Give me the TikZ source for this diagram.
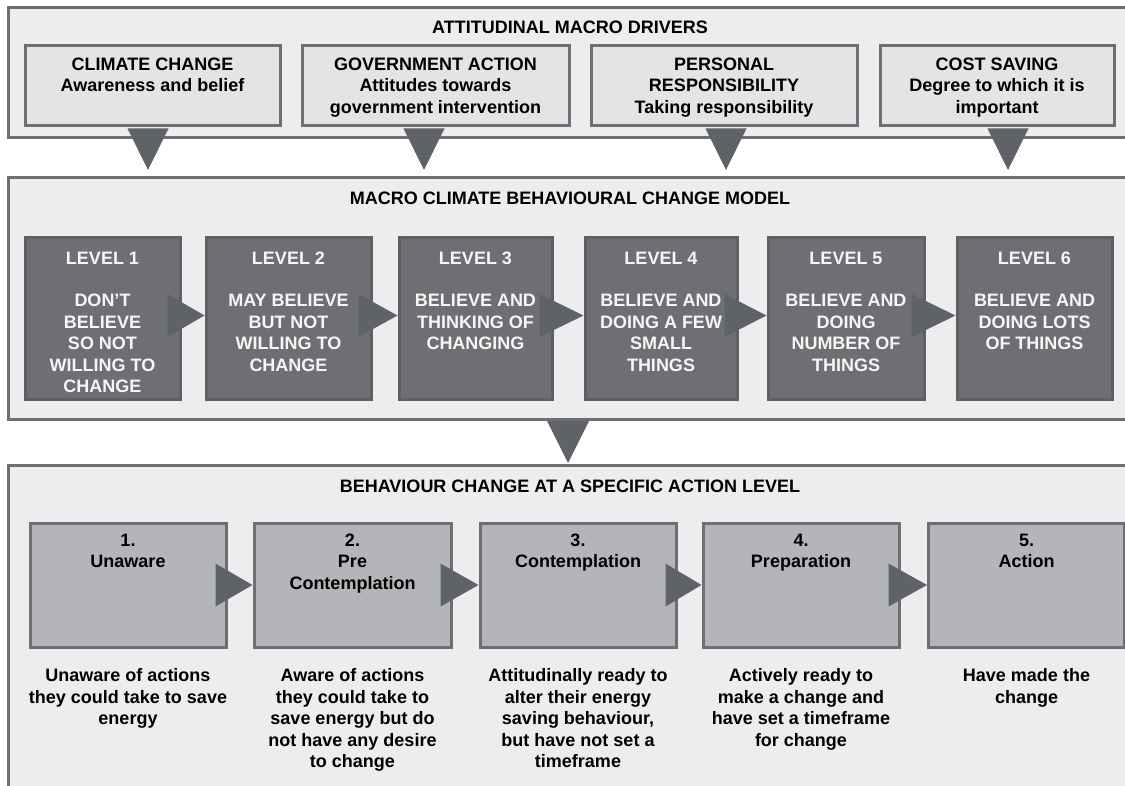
\documentclass[tikz,border=0pt]{standalone}
\usepackage{fontspec}
\setmainfont{Liberation Sans}
\usetikzlibrary{calc}

\definecolor{panelfill}{HTML}{EDEDEF}
\definecolor{panelline}{HTML}{6E6F72}
\definecolor{driverfill}{HTML}{E4E4E6}
\definecolor{levelfill}{HTML}{6D6F73}
\definecolor{levelline}{HTML}{5E6064}
\definecolor{stagefill}{HTML}{B4B5B8}
\definecolor{arrowgrey}{HTML}{5F6266}
\definecolor{leveltext}{HTML}{F6F6F6}

\tikzset{
  panel/.style={fill=panelfill, draw=panelline, line width=3pt},
  driverbox/.style={draw=panelline, fill=driverfill, line width=3pt, inner sep=0pt},
  levelbox/.style={draw=levelline, fill=levelfill, line width=3pt, inner sep=0pt, minimum width=155pt, minimum height=161pt},
  stagebox/.style={draw=panelline, fill=stagefill, line width=3pt, inner sep=0pt, minimum width=196pt, minimum height=124pt},
  boxtext/.style={inner sep=0pt, align=center, anchor=north, font=\bfseries\fontsize{18}{21.5}\selectfont},
  leveltxt/.style={boxtext, text=leveltext},
  paneltitle/.style={inner sep=0pt, anchor=base, font=\bfseries\fontsize{18}{21.5}\selectfont},
  flowarrow/.style={fill=arrowgrey}
}

\begin{document}
\begin{tikzpicture}[x=1pt,y=-1pt]
\useasboundingbox (0,0) rectangle (1125,786);
\fill[white] (0,0) rectangle (1125,786);

\begin{scope}
\clip (0,0) rectangle (1125,786);

% the three panels run on past the right and lower edges
\draw[panel] (8,8) rectangle (1140,138);
\draw[panel] (8,178) rectangle (1140,419);
\draw[panel] (8,465) rectangle (1140,820);

\node[paneltitle] (t1) at (570,34) {ATTITUDINAL MACRO DRIVERS};
\node[paneltitle] (t2) at (570,205) {MACRO CLIMATE BEHAVIOURAL CHANGE MODEL};
\node[paneltitle] (t3) at (570,492) {BEHAVIOUR CHANGE AT A SPECIFIC ACTION LEVEL};

% attitudinal drivers
\node[driverbox, minimum width=255pt, minimum height=80pt] (d1) at (152.5,86) {};
\node[driverbox, minimum width=267pt, minimum height=80pt] (d2) at (435.5,86) {};
\node[driverbox, minimum width=266pt, minimum height=80pt] (d3) at (724,86) {};
\node[driverbox, minimum width=234pt, minimum height=80pt] (d4) at (997,86) {};

\node[boxtext] (d1t) at ($(d1.north)+(0,13)$) {CLIMATE CHANGE\\Awareness and belief};
\node[boxtext] (d2t) at ($(d2.north)+(0,13)$) {GOVERNMENT ACTION\\Attitudes towards\\government intervention};
\node[boxtext] (d3t) at ($(d3.north)+(0,13)$) {PERSONAL\\RESPONSIBILITY\\Taking responsibility};
\node[boxtext] (d4t) at ($(d4.north)+(0,13)$) {COST SAVING\\Degree to which it is\\important};

% driver arrows into the model panel
\coordinate (a1) at (148,170);
\coordinate (a2) at (424,170);
\coordinate (a3) at (726,170);
\coordinate (a4) at (1008,170);
\foreach \a/\d in {a1/d1,a2/d2,a3/d3,a4/d4}{
  \fill[flowarrow] (\a) -- ($(\a |- \d.south)+(-20.5,1)$) -- ($(\a |- \d.south)+(20.5,1)$) -- cycle;
}

% levels
\node[levelbox] (l1) at (102.5,318.5) {};
\node[levelbox, minimum width=165pt] (l2) at (288.5,318.5) {};
\node[levelbox, minimum width=153pt] (l3) at (475.5,318.5) {};
\node[levelbox, minimum width=152pt] (l4) at (661,318.5) {};
\node[levelbox, minimum width=156pt] (l5) at (846,318.5) {};
\node[levelbox] (l6) at (1034.5,318.5) {};

\node[leveltxt] (l1t) at ($(l1.north)+(0,15)$) {LEVEL 1\\[21pt]DON’T\\BELIEVE\\SO NOT\\WILLING TO\\CHANGE};
\node[leveltxt] (l2t) at ($(l2.north)+(0,15)$) {LEVEL 2\\[21pt]MAY BELIEVE\\BUT NOT\\WILLING TO\\CHANGE};
\node[leveltxt] (l3t) at ($(l3.north)+(0,15)$) {LEVEL 3\\[21pt]BELIEVE AND\\THINKING OF\\CHANGING};
\node[leveltxt] (l4t) at ($(l4.north)+(0,15)$) {LEVEL 4\\[21pt]BELIEVE AND\\DOING A FEW\\SMALL\\THINGS};
\node[leveltxt] (l5t) at ($(l5.north)+(0,15)$) {LEVEL 5\\[21pt]BELIEVE AND\\DOING\\NUMBER OF\\THINGS};
\node[leveltxt] (l6t) at ($(l6.north)+(0,15)$) {LEVEL 6\\[21pt]BELIEVE AND\\DOING LOTS\\OF THINGS};

\foreach \p/\n in {l1/l2,l2/l3,l3/l4,l4/l5,l5/l6}{
  \fill[flowarrow] ($(\n.west)+(0,-3)$) -- ($(\p.east |- \n.west)+(-14,-24.5)$) -- ($(\p.east |- \n.west)+(-14,18.5)$) -- cycle;
}

% model panel into the action level panel
\coordinate (m1) at (568,463);
\fill[flowarrow] (m1) -- (547,421) -- (589,421) -- cycle;

% stages
\node[stagebox] (s1) at (128,585) {};
\node[stagebox, minimum width=197pt] (s2) at (352.5,585) {};
\node[stagebox] (s3) at (578,585) {};
\node[stagebox] (s4) at (801,585) {};
\node[stagebox] (s5) at (1026.5,585) {};

\node[boxtext] (s1t) at ($(s1.north)+(0,12)$) {1.\\Unaware};
\node[boxtext] (s2t) at ($(s2.north)+(0,12)$) {2.\\Pre\\Contemplation};
\node[boxtext] (s3t) at ($(s3.north)+(0,12)$) {3.\\Contemplation};
\node[boxtext] (s4t) at ($(s4.north)+(0,12)$) {4.\\Preparation};
\node[boxtext] (s5t) at ($(s5.north)+(0,12)$) {5.\\Action};

\foreach \p/\n in {s1/s2,s2/s3,s3/s4,s4/s5}{
  \fill[flowarrow] (\n.west) -- ($(\p.east |- \n.west)+(-12,-21.5)$) -- ($(\p.east |- \n.west)+(-12,21.5)$) -- cycle;
}

\node[boxtext] (e1) at ($(s1.south)+(0,20)$) {Unaware of actions\\they could take to save\\energy};
\node[boxtext] (e2) at ($(s2.south)+(0,20)$) {Aware of actions\\they could take to\\save energy but do\\not have any desire\\to change};
\node[boxtext] (e3) at ($(s3.south)+(0,20)$) {Attitudinally ready to\\alter their energy\\saving behaviour,\\but have not set a\\timeframe};
\node[boxtext] (e4) at ($(s4.south)+(0,20)$) {Actively ready to\\make a change and\\have set a timeframe\\for change};
\node[boxtext] (e5) at ($(s5.south)+(0,20)$) {Have made the\\change};
\end{scope}
\end{tikzpicture}
\end{document}
